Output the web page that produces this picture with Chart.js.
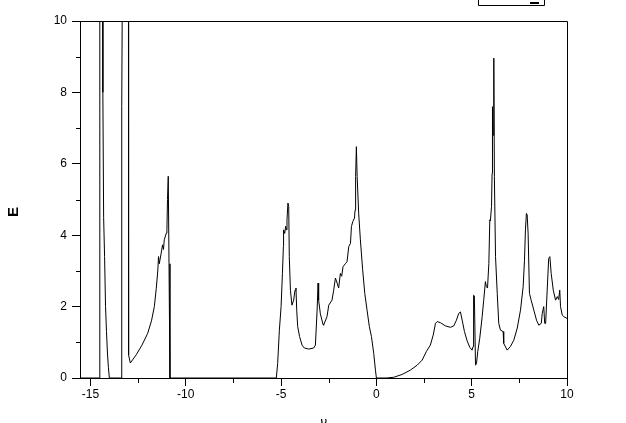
<!DOCTYPE html>
<html>
<head>
<meta charset="utf-8">
<script src="https://cdn.jsdelivr.net/npm/chart.js@4/dist/chart.umd.min.js"></script>
<style>
  html, body { margin: 0; padding: 0; background: #fff; }
  canvas { display: block; }
</style>
</head>
<body>
<canvas id="c" width="626" height="423"></canvas>
<script>
// ---- data ----
const energy = [
  -15.55, -14.52, -14.51, -14.37, -14.35, -14.31, -14.26, -14.21, -14.16, -14.11, -14.06, -14.01,
  -13.37, -13.36, -13.30, -13.01, -13.00, -12.91, -12.60, -12.30, -12.00, -11.80, -11.65, -11.55,
  -11.47, -11.43, -11.39, -11.29, -11.22, -11.17, -11.13, -11.02, -10.99, -10.96, -10.92, -10.88, -10.83,
  -5.25, -5.18, -5.09, -5.00, -4.93, -4.88, -4.87, -4.81, -4.76, -4.72, -4.69, -4.64, -4.60, -4.57,
  -4.51, -4.43, -4.34, -4.27, -4.22, -4.18, -4.13, -4.03, -3.90, -3.78, -3.55, -3.29, -3.20, -3.11,
  -3.06, -3.03, -2.94, -2.80, -2.77, -2.59, -2.50, -2.33, -2.24, -2.15, -2.06, -1.98, -1.89, -1.82,
  -1.75, -1.63, -1.54, -1.45, -1.36, -1.31, -1.24, -1.15, -1.12, -1.09, -1.05, -1.01, -0.93, -0.84,
  -0.72, -0.61, -0.49, -0.37, -0.26, -0.14, -0.05, 0.00,
  0.52, 0.91, 1.35, 1.78, 2.14, 2.40, 2.62, 2.83, 2.98, 3.10, 3.19, 3.36, 3.62, 3.88, 4.06, 4.20,
  4.32, 4.41, 4.50, 4.62, 4.76, 4.90, 5.02, 5.07, 5.10, 5.14, 5.20, 5.25, 5.32, 5.42, 5.55, 5.63,
  5.72, 5.77, 5.83, 5.90, 5.95, 5.98, 6.04, 6.07, 6.09, 6.12, 6.16, 6.19, 6.25, 6.34, 6.42, 6.51,
  6.65, 6.68, 6.86, 7.03, 7.21, 7.39, 7.56, 7.70, 7.77, 7.82, 7.87, 7.91, 7.96, 8.03, 8.12, 8.26,
  8.40, 8.52, 8.65, 8.70, 8.78, 8.83, 8.88, 8.96, 9.04, 9.10, 9.17, 9.28, 9.40, 9.49, 9.56, 9.62,
  9.66, 9.75, 9.83, 10.00
];
const dos = [
  0, 0, 14, 14, 8.0, 4.5, 3.4, 2.0, 1.3, 0.7, 0.3, 0,
  0, 7.6, 14, 14, 0.64, 0.42, 0.65, 0.92, 1.25, 1.6, 2.0, 2.5,
  3.0, 3.4, 3.2, 3.5, 3.73, 3.6, 3.87, 4.06, 4.15, 5.0, 5.65, 3.2, 0,
  0, 0.41, 1.34, 2.0, 2.93, 3.68, 4.15, 4.05, 4.25, 4.15, 4.43, 4.9, 4.8, 3.4,
  2.46, 2.04, 2.18, 2.46, 2.52, 1.9, 1.44, 1.16, 0.92, 0.84, 0.81, 0.84, 0.92, 1.9,
  2.66, 2.18, 1.8, 1.5, 1.48, 1.72, 2.04, 2.18, 2.46, 2.8, 2.66, 2.52, 2.93, 2.85,
  3.12, 3.2, 3.26, 3.68, 3.77, 4.24, 4.38, 4.48, 4.7, 5.64, 6.48, 5.64, 4.62, 3.87,
  3.03, 2.37, 1.9, 1.44, 1.16, 0.69, 0.22, 0,
  0, 0.02, 0.1, 0.22, 0.36, 0.5, 0.74, 0.92, 1.2, 1.53, 1.58, 1.55, 1.46, 1.42, 1.46, 1.62,
  1.81, 1.85, 1.62, 1.3, 1.04, 0.86, 0.78, 0.88, 2.32, 2.3, 0.36, 0.4, 0.75, 1.1, 1.72, 2.18,
  2.7, 2.56, 2.52, 3.21, 4.43, 4.4, 4.8, 5.73, 7.6, 6.8, 8.96, 5.64, 3.4, 2.37, 1.53, 1.34,
  1.3, 0.97, 0.78, 0.88, 1.06, 1.4, 1.9, 2.56, 3.3, 4.15, 4.61, 4.57, 4.05, 2.37, 2.18, 1.9,
  1.62, 1.48, 1.53, 1.81, 2.0, 1.53, 1.53, 2.46, 3.35, 3.4, 2.93, 2.46, 2.18, 2.28, 2.2, 2.46,
  2.0, 1.76, 1.72, 1.67
];
const xMajorTicks = [-15, -10, -5, 0, 5, 10];
const xMinorTicks = [-12.5, -7.5, -2.5, 2.5, 7.5];
const yMajorTicks = [0, 2, 4, 6, 8, 10];
const yMinorTicks = [1, 3, 5, 7, 9];
const xTitle = 'ν';
const yTitle = 'E';

const points = energy.map((x, i) => ({ x: x, y: dos[i] }));

const framePlugin = {
  id: 'frame',
  afterDraw(chart) {
    const { ctx, chartArea: a, scales } = chart;
    const xs = scales.x, ys = scales.y;
    ctx.save();
    ctx.strokeStyle = '#000';
    ctx.lineWidth = 1;
    ctx.beginPath();
    const top = Math.round(a.top) + 0.5;
    const right = Math.round(a.right) + 0.5;
    ctx.moveTo(Math.round(a.left), top);
    ctx.lineTo(right, top);
    ctx.lineTo(right, Math.round(a.bottom));
    // minor ticks
    xMinorTicks.forEach(v => {
      const p = Math.round(xs.getPixelForValue(v)) + 0.5;
      ctx.moveTo(p, Math.round(a.bottom));
      ctx.lineTo(p, Math.round(a.bottom) + 5);
    });
    yMinorTicks.forEach(v => {
      const p = Math.round(ys.getPixelForValue(v)) + 0.5;
      ctx.moveTo(Math.round(a.left) - 4, p);
      ctx.lineTo(Math.round(a.left), p);
    });
    // clipped legend box at top right
    ctx.moveTo(478.5, 0); ctx.lineTo(478.5, 5.5); ctx.lineTo(544.5, 5.5); ctx.lineTo(544.5, 0);
    ctx.stroke();
    ctx.fillStyle = '#000';
    ctx.fillRect(530, 2, 9, 2);
    ctx.restore();
  }
};

new Chart(document.getElementById('c'), {
  type: 'scatter',
  data: {
    datasets: [{
      data: points,
      showLine: true,
      borderColor: '#000',
      borderWidth: 1,
      pointRadius: 0,
      tension: 0,
      fill: false
    }]
  },
  options: {
    responsive: false,
    animation: false,
    devicePixelRatio: 1,
    layout: { padding: { top: 21, right: 59, left: 0, bottom: 0 } },
    plugins: { legend: { display: false }, tooltip: { enabled: false } },
    scales: {
      x: {
        type: 'linear',
        min: -15.55,
        max: 10,
        afterBuildTicks: s => { s.ticks = xMajorTicks.map(v => ({ value: v })); },
        afterFit: s => { s.height = 45; },
        grid: { display: true, drawOnChartArea: false, drawTicks: true, tickLength: 8, tickColor: '#000', color: '#000' },
        border: { display: true, color: '#000', width: 1 },
        ticks: { color: '#000', padding: 1, maxRotation: 0, font: { family: 'Liberation Sans, Arial, sans-serif', size: 12 } },
        title: { display: true, text: xTitle, color: '#000', padding: { top: 0, bottom: -7 }, font: { family: 'DejaVu Sans, sans-serif', size: 13, style: 'italic' } }
      },
      y: {
        type: 'linear',
        min: 0,
        max: 10,
        afterBuildTicks: s => { s.ticks = yMajorTicks.map(v => ({ value: v })); },
        afterFit: s => { s.width = 80; },
        grid: { display: true, drawOnChartArea: false, drawTicks: true, tickLength: 8, tickColor: '#000', color: '#000' },
        border: { display: true, color: '#000', width: 1 },
        ticks: { color: '#000', padding: 5, font: { family: 'Liberation Sans, Arial, sans-serif', size: 12 } },
        title: { display: true, text: yTitle + '      ', color: '#000', padding: { top: 5, bottom: 0 }, font: { family: 'Liberation Sans, Arial, sans-serif', size: 15, weight: 'bold' } }
      }
    }
  },
  plugins: [framePlugin]
});
</script>
</body>
</html>
